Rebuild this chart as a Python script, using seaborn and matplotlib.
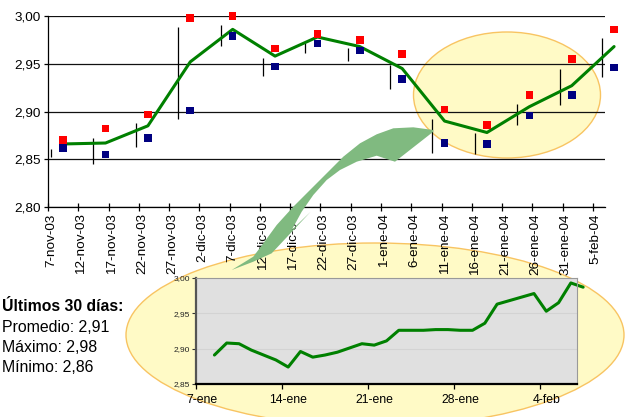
import numpy as np
import pandas as pd
import matplotlib
matplotlib.use("Agg")
import matplotlib.pyplot as plt
import matplotlib.dates as mdates
import matplotlib.transforms as mtransforms
from matplotlib.patches import Ellipse, Polygon
import seaborn as sns

# ---------------- data ----------------
week_dates = pd.date_range("2003-11-09", periods=14, freq="7D")
week_high = [2.870, 2.882, 2.897, 2.998, 3.000, 2.966, 2.981, 2.975, 2.960, 2.902, 2.886, 2.917, 2.955, 2.986]
week_low = [2.862, 2.855, 2.872, 2.901, 2.979, 2.947, 2.971, 2.964, 2.934, 2.867, 2.866, 2.896, 2.917, 2.946]
week_avg = [2.866, 2.867, 2.885, 2.952, 2.986, 2.958, 2.978, 2.968, 2.945, 2.890, 2.878, 2.905, 2.927, 2.968]

range_dates = pd.date_range("2003-11-07", periods=14, freq="7D")
range_low = [2.852, 2.845, 2.863, 2.892, 2.969, 2.937, 2.961, 2.953, 2.924, 2.857, 2.856, 2.886, 2.907, 2.936]
range_high = [2.861, 2.872, 2.888, 2.988, 2.991, 2.956, 2.972, 2.966, 2.949, 2.892, 2.877, 2.908, 2.945, 2.977]

tick_dates = pd.date_range("2003-11-07", "2004-02-05", freq="5D")
tick_labels = ["7-nov-03", "12-nov-03", "17-nov-03", "22-nov-03", "27-nov-03",
               "2-dic-03", "7-dic-03", "12-dic-03", "17-dic-03", "22-dic-03",
               "27-dic-03", "1-ene-04", "6-ene-04", "11-ene-04", "16-ene-04",
               "21-ene-04", "26-ene-04", "31-ene-04", "5-feb-04"]
y_ticks = [2.80, 2.85, 2.90, 2.95, 3.00]
y_tick_labels = ["2,80", "2,85", "2,90", "2,95", "3,00"]

daily_dates = pd.date_range("2004-01-08", "2004-02-07", freq="D")
daily_vals = [2.891, 2.908, 2.907, 2.898, 2.891, 2.884, 2.874, 2.896, 2.888, 2.891,
              2.895, 2.901, 2.907, 2.905, 2.911, 2.926, 2.926, 2.926, 2.927, 2.927,
              2.926, 2.926, 2.936, 2.963, 2.968, 2.973, 2.978, 2.953, 2.965, 2.993,
              2.987]
inset_tick_dates = pd.date_range("2004-01-07", periods=5, freq="7D")
inset_tick_labels = ["7-ene", "14-ene", "21-ene", "28-ene", "4-feb"]
inset_y_ticks = [2.85, 2.90, 2.95, 3.00]
inset_y_labels = ["2,85", "2,90", "2,95", "3,00"]

summary_title = "Últimos 30 días:"
summary_lines = ["Promedio: 2,91", "Máximo: 2,98", "Mínimo: 2,86"]

# ---------------- style ----------------
sns.set_theme(style="white")
plt.rcParams['font.family'] = ['Liberation Sans', 'DejaVu Sans']

W, H = 626, 417
fig = plt.figure(figsize=(W / 100, H / 100), dpi=100)
fig.patch.set_facecolor('white')
px = mtransforms.Affine2D().scale(1 / W, -1 / H).translate(0, 1) + fig.transFigure


def rect(x0, y0, x1, y1):
    return [x0 / W, 1 - y1 / H, (x1 - x0) / W, (y1 - y0) / H]


def num(d):
    return mdates.date2num(pd.DatetimeIndex(d).to_pydatetime())


HALF = 0.5
ELL_FC = '#FFFAC6'
ELL_EC = '#F8C462'

# ---------------- main chart ----------------
ax = fig.add_axes(rect(48, 16, 605, 207), zorder=1)
ax.set_facecolor('none')
ax.set_axisbelow(True)

ax.add_patch(Ellipse((507, 95), 187, 126, transform=px, facecolor=ELL_FC,
                     edgecolor=ELL_EC, lw=1.0, zorder=0.3))

ax.vlines(num(range_dates) + HALF, range_low, range_high, color='black', lw=0.9, zorder=2)
sns.lineplot(x=num(week_dates) + HALF, y=week_avg, ax=ax, color='#008000', lw=2.2, zorder=3)
sns.scatterplot(x=num(week_dates) + HALF, y=week_high, ax=ax, marker='s', s=30,
                color='#FF0000', edgecolor='none', linewidth=0, zorder=4)
sns.scatterplot(x=num(week_dates) + HALF, y=week_low, ax=ax, marker='s', s=30,
                color='#000080', edgecolor='none', linewidth=0, zorder=4)
for art in list(ax.lines) + list(ax.collections):
    art.set_clip_on(False)

ax.set_xlim(num(["2003-11-07"])[0], num(["2004-02-07"])[0])
ax.set_ylim(2.80, 3.00)
ax.set_xlabel("")
ax.set_ylabel("")

ax.yaxis.grid(True, color='#111111', lw=0.9)
ax.xaxis.grid(False)
ax.set_yticks(y_ticks)
ax.set_yticklabels(y_tick_labels)
ax.tick_params(axis='y', left=True, direction='out', length=3, width=0.9,
               color='black', labelsize=9.7, pad=2, labelcolor='black')

ax.set_xticks(num(tick_dates))
ax.set_xticklabels([])
ax.set_xticks(num(tick_dates) + HALF, minor=True)
ax.set_xticklabels(tick_labels, minor=True, rotation=90)
ax.tick_params(axis='x', which='major', bottom=True, direction='inout', length=6,
               width=0.9, color='black')
ax.tick_params(axis='x', which='minor', bottom=True, length=0, pad=4.5,
               labelsize=9.7, labelcolor='black')
for s in ['top', 'right']:
    ax.spines[s].set_visible(False)
for s in ['left', 'bottom']:
    ax.spines[s].set_color('black')
    ax.spines[s].set_linewidth(0.9)

# ---------------- big ellipse ----------------
fig.add_artist(Ellipse((375, 335), 498, 184, transform=px, facecolor=ELL_FC,
                       edgecolor=ELL_EC, lw=1.0, zorder=0.5))

# ---------------- inset ----------------
axi = fig.add_axes(rect(196, 278, 577, 384), zorder=2)
axi.set_facecolor('#E0E0E0')
axi.set_axisbelow(True)
sns.lineplot(x=num(daily_dates) + HALF, y=daily_vals, ax=axi, color='#008000', lw=2.2)
for art in axi.lines:
    art.set_clip_on(False)
axi.set_xlim(num(["2004-01-07"])[0], num(["2004-02-07"])[0])
axi.set_ylim(2.85, 3.00)
axi.set_xlabel("")
axi.set_ylabel("")
axi.yaxis.grid(True, color='#D3D3D3', lw=0.8)
axi.xaxis.grid(False)
axi.set_yticks(inset_y_ticks)
axi.set_yticklabels(inset_y_labels)
axi.tick_params(axis='y', left=True, direction='out', length=3, width=0.8,
                color='#333333', labelsize=6, pad=1.5, labelcolor='#222222')
axi.set_xticks(num(inset_tick_dates))
axi.set_xticklabels([])
axi.set_xticks(num(inset_tick_dates) + HALF, minor=True)
axi.set_xticklabels(inset_tick_labels, minor=True)
axi.tick_params(axis='x', which='major', bottom=True, direction='out', length=3.5,
                width=0.9, color='black')
axi.tick_params(axis='x', which='minor', bottom=True, length=0, pad=7,
                labelsize=8.8, labelcolor='black')
axi.spines['left'].set_color('#555555')
axi.spines['left'].set_linewidth(1.6)
axi.spines['bottom'].set_color('black')
axi.spines['bottom'].set_linewidth(1.6)
for s in ['top', 'right']:
    axi.spines[s].set_color('#999999')
    axi.spines[s].set_linewidth(0.8)

# ---------------- curved arrow ----------------
arrow_pts = [
    (433.3, 130.0), (413.3, 127.3), (393.3, 128.3), (376.7, 134.3), (360.0, 143.3),
    (343.3, 156.7), (326.7, 173.3), (310.0, 190.0), (293.3, 206.7), (276.7, 225.0),
    (263.3, 243.3), (253.3, 256.7), (231.7, 270.0), (253.3, 261.7), (271.7, 253.3),
    (310.7, 211.7), (291.7, 230.0), (301.7, 211.7), (313.3, 195.0), (326.7, 180.0),
    (340.0, 170.0), (356.7, 161.7), (376.7, 155.7), (395.0, 161.7), (433.3, 131.7),
]
fig.add_artist(Polygon(arrow_pts, closed=True, transform=px, facecolor='#80BA80',
                       edgecolor='none', zorder=3))

# ---------------- summary text ----------------
fig.text(2 / W, 1 - 306.7 / H, summary_title, fontsize=11.3, fontweight='bold',
         va='center', ha='left', color='black', zorder=3)
for i, line in enumerate(summary_lines):
    fig.text(2 / W, 1 - (327 + 20 * i) / H, line, fontsize=11.4,
             va='center', ha='left', color='black', zorder=3)

fig.savefig("out.png", dpi=100)
